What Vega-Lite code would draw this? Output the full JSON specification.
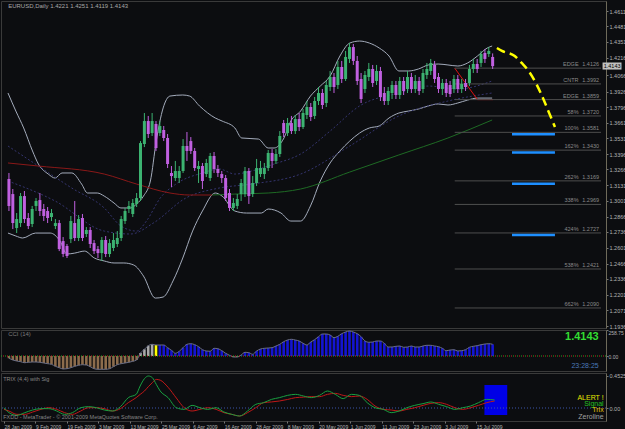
{
"$schema":"https://vega.github.io/schema/vega-lite/v6.json",
"background":"#0c0d10",
"padding":0,
"spacing":2,
"bounds":"flush",
"config":{"view":{"stroke":"#3a3a3a","strokeWidth":1},"axis":{"labelFont":"Liberation Sans","labelFontSize":5.5,"labelColor":"#b4b4b4","tickColor":"#777777","tickSize":2,"labelPadding":1,"domainColor":"#6e6a5a","grid":false,"title":null},"text":{"font":"Liberation Sans"}},
"datasets":{
"candles":[
{"i":0,"o":1.3185,"h":1.3236,"l":1.2913,"c":1.2956},{"i":1,"o":1.3057,"h":1.3100,"l":1.2760,"c":1.2811},{"i":2,"o":1.2769,"h":1.2896,"l":1.2726,"c":1.2845},{"i":3,"o":1.2811,"h":1.3066,"l":1.2777,"c":1.3040},{"i":4,"o":1.3040,"h":1.3083,"l":1.2811,"c":1.2845},{"i":5,"o":1.2854,"h":1.2896,"l":1.2760,"c":1.2786},{"i":6,"o":1.2803,"h":1.2956,"l":1.2777,"c":1.2930},{"i":7,"o":1.2956,"h":1.3023,"l":1.2913,"c":1.2998},{"i":8,"o":1.3006,"h":1.3066,"l":1.2871,"c":1.2913},{"i":9,"o":1.2930,"h":1.2973,"l":1.2828,"c":1.2871},
{"i":10,"o":1.2913,"h":1.2947,"l":1.2811,"c":1.2854},{"i":11,"o":1.2862,"h":1.2930,"l":1.2828,"c":1.2896},{"i":12,"o":1.2786,"h":1.2845,"l":1.2760,"c":1.2811},{"i":13,"o":1.2811,"h":1.2837,"l":1.2573,"c":1.2590},{"i":14,"o":1.2658,"h":1.2692,"l":1.2522,"c":1.2548},{"i":15,"o":1.2616,"h":1.2633,"l":1.2514,"c":1.2531},{"i":16,"o":1.2675,"h":1.2871,"l":1.2641,"c":1.2828},{"i":17,"o":1.2811,"h":1.2998,"l":1.2658,"c":1.2684},{"i":18,"o":1.2684,"h":1.2879,"l":1.2658,"c":1.2845},{"i":19,"o":1.2854,"h":1.2888,"l":1.2658,"c":1.2684},
{"i":20,"o":1.2718,"h":1.2777,"l":1.2692,"c":1.2752},{"i":21,"o":1.2752,"h":1.2777,"l":1.2599,"c":1.2633},{"i":22,"o":1.2641,"h":1.2667,"l":1.2548,"c":1.2573},{"i":23,"o":1.2590,"h":1.2616,"l":1.2514,"c":1.2556},{"i":24,"o":1.2556,"h":1.2692,"l":1.2489,"c":1.2667},{"i":25,"o":1.2667,"h":1.2701,"l":1.2522,"c":1.2548},{"i":26,"o":1.2548,"h":1.2675,"l":1.2522,"c":1.2641},{"i":27,"o":1.2599,"h":1.2726,"l":1.2573,"c":1.2667},{"i":28,"o":1.2633,"h":1.2743,"l":1.2607,"c":1.2684},{"i":29,"o":1.2684,"h":1.2871,"l":1.2658,"c":1.2845},
{"i":30,"o":1.2828,"h":1.2939,"l":1.2803,"c":1.2913},{"i":31,"o":1.2930,"h":1.2998,"l":1.2896,"c":1.2956},{"i":32,"o":1.2888,"h":1.3015,"l":1.2862,"c":1.2981},{"i":33,"o":1.2973,"h":1.3066,"l":1.2947,"c":1.3023},{"i":34,"o":1.3023,"h":1.3507,"l":1.2998,"c":1.3490},{"i":35,"o":1.3482,"h":1.3745,"l":1.3456,"c":1.3677},{"i":36,"o":1.3677,"h":1.3720,"l":1.3533,"c":1.3567},{"i":37,"o":1.3575,"h":1.3745,"l":1.3550,"c":1.3677},{"i":38,"o":1.3652,"h":1.3677,"l":1.3423,"c":1.3448},{"i":39,"o":1.3575,"h":1.3677,"l":1.3550,"c":1.3635},
{"i":40,"o":1.3601,"h":1.3635,"l":1.3507,"c":1.3533},{"i":41,"o":1.3533,"h":1.3567,"l":1.3278,"c":1.3312},{"i":42,"o":1.3236,"h":1.3295,"l":1.3117,"c":1.3210},{"i":43,"o":1.3193,"h":1.3338,"l":1.3168,"c":1.3253},{"i":44,"o":1.3193,"h":1.3295,"l":1.3151,"c":1.3253},{"i":45,"o":1.3253,"h":1.3524,"l":1.3236,"c":1.3465},{"i":46,"o":1.3465,"h":1.3584,"l":1.3338,"c":1.3423},{"i":47,"o":1.3507,"h":1.3541,"l":1.3397,"c":1.3423},{"i":48,"o":1.3423,"h":1.3448,"l":1.3253,"c":1.3278},{"i":49,"o":1.3270,"h":1.3338,"l":1.3151,"c":1.3295},
{"i":50,"o":1.3295,"h":1.3321,"l":1.3100,"c":1.3168},{"i":51,"o":1.3227,"h":1.3355,"l":1.3202,"c":1.3321},{"i":52,"o":1.3193,"h":1.3406,"l":1.3168,"c":1.3380},{"i":53,"o":1.3380,"h":1.3414,"l":1.3236,"c":1.3270},{"i":54,"o":1.3270,"h":1.3304,"l":1.3202,"c":1.3236},{"i":55,"o":1.3227,"h":1.3253,"l":1.3151,"c":1.3193},{"i":56,"o":1.3193,"h":1.3219,"l":1.2998,"c":1.3023},{"i":57,"o":1.3066,"h":1.3100,"l":1.2913,"c":1.2939},{"i":58,"o":1.2939,"h":1.3023,"l":1.2913,"c":1.2981},{"i":59,"o":1.2956,"h":1.3057,"l":1.2930,"c":1.3015},
{"i":60,"o":1.3057,"h":1.3185,"l":1.2998,"c":1.3151},{"i":61,"o":1.3057,"h":1.3287,"l":1.3032,"c":1.3253},{"i":62,"o":1.3253,"h":1.3278,"l":1.2973,"c":1.3040},{"i":63,"o":1.3057,"h":1.3210,"l":1.3032,"c":1.3151},{"i":64,"o":1.3151,"h":1.3355,"l":1.3125,"c":1.3278},{"i":65,"o":1.3227,"h":1.3338,"l":1.3202,"c":1.3278},{"i":66,"o":1.3227,"h":1.3321,"l":1.3185,"c":1.3278},{"i":67,"o":1.3278,"h":1.3431,"l":1.3253,"c":1.3406},{"i":68,"o":1.3406,"h":1.3439,"l":1.3278,"c":1.3338},{"i":69,"o":1.3338,"h":1.3439,"l":1.3312,"c":1.3397},
{"i":70,"o":1.3397,"h":1.3592,"l":1.3372,"c":1.3550},{"i":71,"o":1.3660,"h":1.3686,"l":1.3541,"c":1.3575},{"i":72,"o":1.3575,"h":1.3703,"l":1.3550,"c":1.3660},{"i":73,"o":1.3660,"h":1.3720,"l":1.3567,"c":1.3592},{"i":74,"o":1.3592,"h":1.3728,"l":1.3567,"c":1.3694},{"i":75,"o":1.3694,"h":1.3745,"l":1.3592,"c":1.3626},{"i":76,"o":1.3626,"h":1.3779,"l":1.3609,"c":1.3745},{"i":77,"o":1.3728,"h":1.3847,"l":1.3694,"c":1.3796},{"i":78,"o":1.3796,"h":1.3830,"l":1.3677,"c":1.3711},{"i":79,"o":1.3720,"h":1.3881,"l":1.3694,"c":1.3847},
{"i":80,"o":1.3847,"h":1.3966,"l":1.3813,"c":1.3915},{"i":81,"o":1.3915,"h":1.3949,"l":1.3779,"c":1.3813},{"i":82,"o":1.3830,"h":1.4017,"l":1.3796,"c":1.3983},{"i":83,"o":1.3966,"h":1.4102,"l":1.3932,"c":1.4051},{"i":84,"o":1.4051,"h":1.4085,"l":1.3915,"c":1.3966},{"i":85,"o":1.3983,"h":1.4187,"l":1.3949,"c":1.4136},{"i":86,"o":1.4136,"h":1.4187,"l":1.4000,"c":1.4034},{"i":87,"o":1.4034,"h":1.4272,"l":1.4017,"c":1.4221},{"i":88,"o":1.4204,"h":1.4339,"l":1.4170,"c":1.4305},{"i":89,"o":1.4305,"h":1.4331,"l":1.4153,"c":1.4187},
{"i":90,"o":1.4187,"h":1.4229,"l":1.3983,"c":1.4017},{"i":91,"o":1.4034,"h":1.4085,"l":1.3830,"c":1.3864},{"i":92,"o":1.3949,"h":1.4102,"l":1.3915,"c":1.4068},{"i":93,"o":1.4051,"h":1.4170,"l":1.4017,"c":1.4119},{"i":94,"o":1.4119,"h":1.4153,"l":1.3966,"c":1.4000},{"i":95,"o":1.4017,"h":1.4153,"l":1.3983,"c":1.4102},{"i":96,"o":1.4102,"h":1.4136,"l":1.3847,"c":1.3881},{"i":97,"o":1.3915,"h":1.3966,"l":1.3813,"c":1.3847},{"i":98,"o":1.3847,"h":1.3966,"l":1.3813,"c":1.3932},{"i":99,"o":1.3915,"h":1.4017,"l":1.3864,"c":1.3983},
{"i":100,"o":1.3983,"h":1.4017,"l":1.3864,"c":1.3898},{"i":101,"o":1.3898,"h":1.4051,"l":1.3864,"c":1.4017},{"i":102,"o":1.4017,"h":1.4051,"l":1.3898,"c":1.3932},{"i":103,"o":1.3949,"h":1.4102,"l":1.3915,"c":1.4051},{"i":104,"o":1.4051,"h":1.4085,"l":1.3915,"c":1.3949},{"i":105,"o":1.3949,"h":1.4068,"l":1.3915,"c":1.4017},{"i":106,"o":1.4017,"h":1.4051,"l":1.3898,"c":1.3932},{"i":107,"o":1.3949,"h":1.4119,"l":1.3915,"c":1.4085},{"i":108,"o":1.4068,"h":1.4170,"l":1.4034,"c":1.4119},{"i":109,"o":1.4102,"h":1.4204,"l":1.4068,"c":1.4170},
{"i":110,"o":1.4153,"h":1.4187,"l":1.4000,"c":1.4034},{"i":111,"o":1.4051,"h":1.4085,"l":1.3915,"c":1.3949},{"i":112,"o":1.3949,"h":1.4034,"l":1.3898,"c":1.4000},{"i":113,"o":1.4000,"h":1.4034,"l":1.3881,"c":1.3915},{"i":114,"o":1.3983,"h":1.4017,"l":1.3881,"c":1.3906},{"i":115,"o":1.3949,"h":1.4068,"l":1.3915,"c":1.4034},{"i":116,"o":1.4034,"h":1.4068,"l":1.3915,"c":1.3949},{"i":117,"o":1.3949,"h":1.4034,"l":1.3915,"c":1.3991},{"i":118,"o":1.4000,"h":1.4034,"l":1.3932,"c":1.3966},{"i":119,"o":1.4000,"h":1.4153,"l":1.3974,"c":1.4119},
{"i":120,"o":1.4119,"h":1.4204,"l":1.4085,"c":1.4161},{"i":121,"o":1.4161,"h":1.4204,"l":1.4085,"c":1.4119},{"i":122,"o":1.4170,"h":1.4272,"l":1.4136,"c":1.4246},{"i":123,"o":1.4255,"h":1.4288,"l":1.4170,"c":1.4204},{"i":124,"o":1.4246,"h":1.4305,"l":1.4221,"c":1.4272},{"i":125,"o":1.4221,"h":1.4251,"l":1.4119,"c":1.4143}
],
"upper":[
{"i":-0.25,"v":1.3915},{"i":1.78,"v":1.3762},{"i":3.81,"v":1.3618},{"i":6.09,"v":1.3423},{"i":7.61,"v":1.3312},{"i":10.15,"v":1.3227},{"i":11.93,"v":1.3193},{"i":13.71,"v":1.3236},{"i":16.24,"v":1.3236},{"i":18.78,"v":1.3142},{"i":20.3,"v":1.3066},{"i":22.84,"v":1.3066},{"i":24.62,"v":1.3040},{"i":27.16,"v":1.2981},{"i":28.93,"v":1.2939},{"i":31.47,"v":1.2939},{"i":32.99,"v":1.2973},{"i":34.77,"v":1.3040},{"i":36.55,"v":1.3168},{"i":38.07,"v":1.3507},{"i":39.85,"v":1.3788},{"i":41.62,"v":1.3889},{"i":44.92,"v":1.3898},{"i":46.7,"v":1.3889},{"i":49.24,"v":1.3805},{"i":53.3,"v":1.3703},{"i":55.08,"v":1.3677},{"i":58.38,"v":1.3618},{"i":60.15,"v":1.3533},{"i":64.47,"v":1.3524},{"i":67,"v":1.3448},{"i":68.53,"v":1.3448},{"i":71.07,"v":1.3533},{"i":72.84,"v":1.3677},{"i":75.38,"v":1.3762},{"i":77.92,"v":1.3889},{"i":80.46,"v":1.3974},{"i":83,"v":1.4059},{"i":85.53,"v":1.4229},{"i":88.07,"v":1.4339},{"i":90.61,"v":1.4356},{"i":93.15,"v":1.4339},{"i":95.69,"v":1.4297},{"i":98.22,"v":1.4229},{"i":100.76,"v":1.4102},{"i":103.3,"v":1.4102},{"i":105.84,"v":1.4119},{"i":108.38,"v":1.4153},{"i":110.91,"v":1.4161},{"i":113.45,"v":1.4153},{"i":115.99,"v":1.4144},{"i":118.53,"v":1.4170},{"i":121.07,"v":1.4229},{"i":123.6,"v":1.4297},{"i":124.87,"v":1.4314}
],
"lower":[
{"i":-0.25,"v":1.2726},{"i":1.78,"v":1.2701},{"i":3.55,"v":1.2684},{"i":6.85,"v":1.2726},{"i":10.66,"v":1.2726},{"i":13.2,"v":1.2658},{"i":14.97,"v":1.2548},{"i":17.01,"v":1.2556},{"i":19.54,"v":1.2573},{"i":22.08,"v":1.2514},{"i":24.62,"v":1.2489},{"i":27.16,"v":1.2472},{"i":29.7,"v":1.2472},{"i":32.23,"v":1.2455},{"i":34.77,"v":1.2361},{"i":37.82,"v":1.2174},{"i":39.85,"v":1.2183},{"i":42.39,"v":1.2319},{"i":44.92,"v":1.2514},{"i":47.46,"v":1.2743},{"i":50,"v":1.2913},{"i":53.3,"v":1.3066},{"i":55.08,"v":1.3040},{"i":58.38,"v":1.2913},{"i":61.42,"v":1.2896},{"i":65.23,"v":1.2896},{"i":67,"v":1.2930},{"i":70.3,"v":1.2896},{"i":72.84,"v":1.2828},{"i":75.38,"v":1.2828},{"i":77.92,"v":1.2956},{"i":80.46,"v":1.3168},{"i":83,"v":1.3321},{"i":85.53,"v":1.3423},{"i":88.07,"v":1.3507},{"i":90.61,"v":1.3575},{"i":93.15,"v":1.3618},{"i":95.69,"v":1.3635},{"i":98.22,"v":1.3703},{"i":100.76,"v":1.3745},{"i":103.3,"v":1.3762},{"i":105.84,"v":1.3779},{"i":108.38,"v":1.3805},{"i":110.91,"v":1.3822},{"i":113.45,"v":1.3813},{"i":115.99,"v":1.3830},{"i":118.53,"v":1.3855},{"i":121.07,"v":1.3872},{"i":124.87,"v":1.3872}
],
"dim1":[
{"i":-0.25,"v":1.3465},{"i":7.61,"v":1.3295},{"i":16.24,"v":1.3108},{"i":24.62,"v":1.2939},{"i":28.93,"v":1.2786},{"i":32.99,"v":1.2743},{"i":35.53,"v":1.2828},{"i":39.09,"v":1.3023},{"i":43.15,"v":1.3142},{"i":50,"v":1.3236},{"i":54.31,"v":1.3270},{"i":58.38,"v":1.3227},{"i":62.69,"v":1.3253},{"i":68.53,"v":1.3312},{"i":75.38,"v":1.3397},{"i":83,"v":1.3592},{"i":90.61,"v":1.3805},{"i":100.76,"v":1.3915},{"i":108.38,"v":1.3974},{"i":115.99,"v":1.3949},{"i":124.87,"v":1.4017}
],
"dim2":[
{"i":-0.25,"v":1.3168},{"i":11.93,"v":1.2998},{"i":24.62,"v":1.2743},{"i":31.47,"v":1.2718},{"i":37.31,"v":1.2811},{"i":45.69,"v":1.3023},{"i":54.31,"v":1.3108},{"i":62.69,"v":1.3142},{"i":75.38,"v":1.3227},{"i":88.07,"v":1.3465},{"i":100.76,"v":1.3720},{"i":113.45,"v":1.3847},{"i":124.87,"v":1.3915}
],
"maRed":[
{"i":-0.25,"v":1.3321},{"i":7.61,"v":1.3295},{"i":24.62,"v":1.3227},{"i":32.99,"v":1.3142},{"i":41.62,"v":1.3066},{"i":46.7,"v":1.3049},{"i":52.54,"v":1.3049}
],
"maGreen":[
{"i":52.54,"v":1.3049},{"i":58.38,"v":1.3057},{"i":67,"v":1.3066},{"i":75.38,"v":1.3100},{"i":88.07,"v":1.3244},{"i":100.76,"v":1.3389},{"i":113.45,"v":1.3533},{"i":124.87,"v":1.3686}
],
"fib":[
{"name":"EDGE","v":1.4126},{"name":"CNTR","v":1.3992},{"name":"EDGE","v":1.3859},{"name":"58%","v":1.3720},{"name":"100%","v":1.3581},{"name":"162%","v":1.3430},{"name":"262%","v":1.3169},{"name":"338%","v":1.2969},{"name":"424%","v":1.2727},{"name":"538%","v":1.2421},{"name":"662%","v":1.2090}
],
"blue":[{"v":1.3565},{"v":1.3410},{"v":1.3145},{"v":1.2710}],
"arc":[
{"i":126.1,"v":1.4297},{"i":127.4,"v":1.4272},{"i":130.7,"v":1.4229},{"i":132.5,"v":1.4170},{"i":134.3,"v":1.4102},{"i":136.3,"v":1.3991},{"i":138.1,"v":1.3864},{"i":139.6,"v":1.3745},{"i":141.1,"v":1.3626}
],
"trend":[{"i":115.2,"v":1.4126},{"i":121.07,"v":1.3859},{"i":125.1,"v":1.3859}],
"cci":[
{"i":0,"v":-23},{"i":1,"v":-40},{"i":2,"v":-50},{"i":3,"v":-57},{"i":4,"v":-67},{"i":5,"v":-63},{"i":6,"v":-60},{"i":7,"v":-60},{"i":8,"v":-63},{"i":9,"v":-70},
{"i":10,"v":-77},{"i":11,"v":-83},{"i":12,"v":-103},{"i":13,"v":-117},{"i":14,"v":-130},{"i":15,"v":-127},{"i":16,"v":-117},{"i":17,"v":-103},{"i":18,"v":-93},{"i":19,"v":-87},
{"i":20,"v":-90},{"i":21,"v":-107},{"i":22,"v":-127},{"i":23,"v":-133},{"i":24,"v":-133},{"i":25,"v":-133},{"i":26,"v":-127},{"i":27,"v":-107},{"i":28,"v":-87},{"i":29,"v":-77},
{"i":30,"v":-70},{"i":31,"v":-63},{"i":32,"v":-53},{"i":33,"v":-40},{"i":34,"v":30},{"i":35,"v":67},{"i":36,"v":103},{"i":37,"v":117},{"i":38,"v":110},{"i":39,"v":110},
{"i":40,"v":110},{"i":41,"v":83},{"i":42,"v":57},{"i":43,"v":27},{"i":44,"v":47},{"i":45,"v":83},{"i":46,"v":117},{"i":47,"v":123},{"i":48,"v":113},{"i":49,"v":93},
{"i":50,"v":63},{"i":51,"v":50},{"i":52,"v":47},{"i":53,"v":77},{"i":54,"v":73},{"i":55,"v":53},{"i":56,"v":27},{"i":57,"v":7},{"i":58,"v":-10},{"i":59,"v":-10},
{"i":60,"v":10},{"i":61,"v":37},{"i":62,"v":33},{"i":63,"v":17},{"i":64,"v":50},{"i":65,"v":70},{"i":66,"v":77},{"i":67,"v":80},{"i":68,"v":83},{"i":69,"v":100},
{"i":70,"v":117},{"i":71,"v":143},{"i":72,"v":160},{"i":73,"v":167},{"i":74,"v":160},{"i":75,"v":150},{"i":76,"v":127},{"i":77,"v":110},{"i":78,"v":140},{"i":79,"v":163},
{"i":80,"v":193},{"i":81,"v":220},{"i":82,"v":220},{"i":83,"v":210},{"i":84,"v":183},{"i":85,"v":197},{"i":86,"v":223},{"i":87,"v":240},{"i":88,"v":250},{"i":89,"v":240},
{"i":90,"v":223},{"i":91,"v":193},{"i":92,"v":150},{"i":93,"v":137},{"i":94,"v":140},{"i":95,"v":150},{"i":96,"v":150},{"i":97,"v":127},{"i":98,"v":90},{"i":99,"v":90},
{"i":100,"v":97},{"i":101,"v":100},{"i":102,"v":87},{"i":103,"v":90},{"i":104,"v":100},{"i":105,"v":90},{"i":106,"v":90},{"i":107,"v":100},{"i":108,"v":107},{"i":109,"v":107},
{"i":110,"v":100},{"i":111,"v":93},{"i":112,"v":77},{"i":113,"v":53},{"i":114,"v":60},{"i":115,"v":63},{"i":116,"v":50},{"i":117,"v":53},{"i":118,"v":63},{"i":119,"v":87},
{"i":120,"v":97},{"i":121,"v":103},{"i":122,"v":113},{"i":123,"v":120},{"i":124,"v":123},{"i":125,"v":117}
],
"trix":[
{"i":0,"g":0.004,"r":-0.019},{"i":1.26,"g":-0.065,"r":-0.042},{"i":3.3,"g":-0.103,"r":-0.089},{"i":5.3,"g":-0.065,"r":-0.089},{"i":7.3,"g":-0.028,"r":-0.056},{"i":9.4,"g":-0.009,"r":-0.019},{"i":11.4,"g":-0.009,"r":0.004},{"i":13.4,"g":-0.042,"r":-0.019},{"i":15.4,"g":-0.089,"r":-0.065},{"i":17.4,"g":-0.065,"r":-0.089},
{"i":19.5,"g":0.004,"r":-0.042},{"i":21.5,"g":0.019,"r":0.004},{"i":23.5,"g":0.004,"r":0.004},{"i":25.5,"g":-0.028,"r":-0.009},{"i":27.6,"g":-0.042,"r":-0.042},{"i":29.6,"g":0.019,"r":-0.009},{"i":31.6,"g":0.145,"r":0.075},{"i":33.6,"g":0.191,"r":0.145},{"i":34.6,"g":0.308,"r":0.19},{"i":35.7,"g":0.411,"r":0.238},
{"i":36.7,"g":0.448,"r":0.30},{"i":37.7,"g":0.425,"r":0.355},{"i":38.7,"g":0.331,"r":0.40},{"i":39.7,"g":0.238,"r":0.39},{"i":41.7,"g":0.145,"r":0.29},{"i":43.8,"g":0.004,"r":0.14},{"i":45.8,"g":-0.019,"r":0.004},{"i":47.8,"g":0.037,"r":-0.042},{"i":49.8,"g":0.004,"r":-0.019},{"i":51.8,"g":-0.019,"r":0.004},
{"i":53.9,"g":0.004,"r":-0.019},{"i":55.9,"g":-0.056,"r":-0.065},{"i":57.9,"g":-0.089,"r":-0.089},{"i":59.9,"g":-0.112,"r":-0.112},{"i":61.9,"g":-0.042,"r":-0.065},{"i":64,"g":0.051,"r":0.004},{"i":66,"g":0.075,"r":0.075},{"i":68,"g":0.121,"r":0.085},{"i":70,"g":0.145,"r":0.098},{"i":72.1,"g":0.177,"r":0.12},
{"i":74.1,"g":0.191,"r":0.145},{"i":76.1,"g":0.168,"r":0.152},{"i":78.1,"g":0.145,"r":0.159},{"i":80.2,"g":0.177,"r":0.159},{"i":82.2,"g":0.238,"r":0.191},{"i":84.2,"g":0.191,"r":0.205},{"i":86.2,"g":0.131,"r":0.177},{"i":88.3,"g":0.191,"r":0.159},{"i":90.3,"g":0.177,"r":0.168},{"i":92.3,"g":0.075,"r":0.121},
{"i":94.3,"g":0.004,"r":0.028},{"i":96.4,"g":-0.019,"r":-0.019},{"i":98.4,"g":-0.065,"r":-0.028},{"i":100.4,"g":-0.042,"r":-0.042},{"i":102.4,"g":0.004,"r":-0.019},{"i":104.4,"g":0.037,"r":0.004},{"i":106.5,"g":0.061,"r":0.037},{"i":108.5,"g":0.084,"r":0.065},{"i":110.5,"g":0.051,"r":0.075},{"i":112.5,"g":0.019,"r":0.051},
{"i":114.6,"g":-0.019,"r":0.004},{"i":116.6,"g":0.004,"r":-0.019},{"i":118.6,"g":0.028,"r":0.004},{"i":120.6,"g":0.075,"r":0.037},{"i":122.7,"g":0.121,"r":0.075},{"i":124.7,"g":0.112,"r":0.098}
]
},
"vconcat":[
{
"width":605,"height":327,
"encoding":{
 "y":{"field":"v","type":"quantitative","scale":{"domain":[1.192,1.4696],"nice":false,"zero":false},
  "axis":{"orient":"right","title":null,"values":[1.4611,1.4481,1.4351,1.4216,1.4066,1.3926,1.3796,1.3661,1.3531,1.3396,1.3266,1.3131,1.3001,1.2866,1.2736,1.2601,1.2466,1.2336,1.2201,1.2071,1.1936],"format":".4f"}}
},
"layer":[
{"data":{"name":"upper"},"mark":{"type":"line","color":"#a4acbc","strokeWidth":1,"interpolate":"monotone"},
 "encoding":{"x":{"field":"i","type":"quantitative","scale":{"domain":[-0.76,153.0],"nice":false,"zero":false},"axis":null}}},
{"data":{"name":"lower"},"mark":{"type":"line","color":"#a4acbc","strokeWidth":1,"interpolate":"monotone"},
 "encoding":{"x":{"field":"i","type":"quantitative","axis":null}}},
{"data":{"name":"dim1"},"mark":{"type":"line","color":"#34346e","strokeWidth":1,"strokeDash":[2,2],"interpolate":"monotone"},
 "encoding":{"x":{"field":"i","type":"quantitative","axis":null}}},
{"data":{"name":"dim2"},"mark":{"type":"line","color":"#34346e","strokeWidth":1,"strokeDash":[2,2],"interpolate":"monotone"},
 "encoding":{"x":{"field":"i","type":"quantitative","axis":null}}},
{"data":{"name":"maRed"},"mark":{"type":"line","color":"#8a1818","strokeWidth":1,"interpolate":"monotone"},
 "encoding":{"x":{"field":"i","type":"quantitative","axis":null}}},
{"data":{"name":"maGreen"},"mark":{"type":"line","color":"#1e6a24","strokeWidth":1,"interpolate":"monotone"},
 "encoding":{"x":{"field":"i","type":"quantitative","axis":null}}},
{"data":{"name":"trend"},"mark":{"type":"line","color":"#e01010","strokeWidth":1},
 "encoding":{"x":{"field":"i","type":"quantitative","axis":null}}},
{"data":{"name":"fib"},"mark":{"type":"rule","color":"#4e4e4e","strokeWidth":1},
 "encoding":{"x":{"datum":115.2,"type":"quantitative","axis":null},"x2":{"datum":153.0}}},
{"data":{"name":"fib"},"mark":{"type":"text","color":"#8a8a8a","fontSize":5.5,"align":"right","baseline":"bottom","dy":-1},
 "encoding":{"x":{"datum":147.2,"type":"quantitative","axis":null},"text":{"field":"name"}}},
{"data":{"name":"fib"},"mark":{"type":"text","color":"#8a8a8a","fontSize":5.5,"align":"right","baseline":"bottom","dy":-1},
 "encoding":{"x":{"datum":152.5,"type":"quantitative","axis":null},"text":{"field":"v","format":".4f"}}},
{"data":{"name":"blue"},"mark":{"type":"rule","color":"#1e8fff","strokeWidth":2.5},
 "encoding":{"x":{"datum":130.0,"type":"quantitative","axis":null},"x2":{"datum":141.1}}},
{"data":{"name":"candles"},"transform":[{"fold":["l"],"as":["k","v"]}],"mark":{"type":"rule","strokeWidth":1},
 "encoding":{"x":{"field":"i","type":"quantitative","axis":null},"y2":{"field":"h"},
 "color":{"condition":{"test":"datum.c >= datum.o","value":"#3cb371"},"value":"#c060e0"}}},
{"data":{"name":"candles"},"transform":[{"fold":["o"],"as":["k","v"]}],"mark":{"type":"bar","width":3},
 "encoding":{"x":{"field":"i","type":"quantitative","axis":null},"y2":{"field":"c"},
 "color":{"condition":{"test":"datum.c >= datum.o","value":"#3cb371"},"value":"#c060e0"}}},
{"data":{"name":"arc"},"mark":{"type":"line","color":"#ffff00","strokeWidth":2.5,"strokeDash":[9,5],"interpolate":"monotone"},
 "encoding":{"x":{"field":"i","type":"quantitative","axis":null}}},
{"data":{"values":[{"t":"EURUSD,Daily  1.4221 1.4251 1.4119 1.4143","v":1.4655}]},"mark":{"type":"text","color":"#a8a8a8","fontSize":6,"align":"left","baseline":"middle"},
 "encoding":{"x":{"datum":-0.2,"type":"quantitative","axis":null},"text":{"field":"t"}}},
{"data":{"values":[{"v":1.4174,"v2":1.4114}]},"mark":{"type":"rect","color":"#c0c0c0","clip":false},
 "encoding":{"x":{"datum":153.4,"type":"quantitative","axis":null},"x2":{"datum":158.3},"y2":{"field":"v2"}}},
{"data":{"values":[{"v":1.4143}]},"mark":{"type":"text","color":"#000000","fontSize":5.5,"align":"left","baseline":"middle"},
 "encoding":{"x":{"datum":153.7,"type":"quantitative","axis":null},"text":{"field":"v","format":".4f"}}}
]
},
{
"width":605,"height":41,
"encoding":{
 "y":{"field":"v","type":"quantitative","scale":{"domain":[-150,260],"nice":false,"zero":false},
  "axis":{"orient":"right","title":null,"values":[258.75,0],"labelFontSize":5,"labelPadding":0,
   "labelBaseline":{"condition":{"test":"datum.value == 0","value":"middle"},"value":"top"},
   "labelExpr":"datum.value == 0 ? '0.00' : format(datum.value, '.2f')"}}
},
"layer":[
{"data":{"name":"cci"},"mark":{"type":"bar","width":2.6},
 "encoding":{"x":{"field":"i","type":"quantitative","scale":{"domain":[-0.76,153.0],"nice":false,"zero":false},"axis":null},"y2":{"datum":0},
 "color":{"condition":[{"test":"datum.v < 0","value":"#8c6c4c"},{"test":"datum.i >= 34 && datum.i <= 37","value":"#a8a8a8"},{"test":"datum.i == 38","value":"#ffff00"}],"value":"#1414d2"}}},
{"data":{"name":"cci"},"mark":{"type":"line","color":"#6a6e86","strokeWidth":1,"interpolate":"monotone"},
 "encoding":{"x":{"field":"i","type":"quantitative","axis":null}}},
{"data":{"values":[{"v":0}]},"mark":{"type":"rule","color":"#22aa22","strokeDash":[1,3],"strokeWidth":1}},
{"data":{"values":[{"v":0}]},"mark":{"type":"rule","color":"#cc2222","strokeDash":[1,3],"strokeDashOffset":2,"strokeWidth":1}},
{"data":{"values":[{"t":"CCI (14)","v":220}]},"mark":{"type":"text","color":"#7c7c7c","fontSize":6,"align":"left","baseline":"middle"},
 "encoding":{"x":{"datum":-0.2,"type":"quantitative","axis":null},"text":{"field":"t"}}},
{"data":{"values":[{"t":"1.4143","v":195}]},"mark":{"type":"text","color":"#33dd33","fontSize":11,"fontWeight":"bold","align":"right","baseline":"middle"},
 "encoding":{"x":{"datum":152.4,"type":"quantitative","axis":null},"text":{"field":"t"}}},
{"data":{"values":[{"t":"23:28:25","v":-100}]},"mark":{"type":"text","color":"#4a78b8","fontSize":7,"align":"right","baseline":"middle"},
 "encoding":{"x":{"datum":152.4,"type":"quantitative","axis":null},"text":{"field":"t"}}}
]
},
{
"width":605,"height":48,
"encoding":{
 "y":{"field":"v","type":"quantitative","scale":{"domain":[-0.182,0.49],"nice":false,"zero":false},
  "axis":{"orient":"right","title":null,"values":[0.4525,0],"labelExpr":"datum.value == 0 ? '0.00' : format(datum.value, '.4f')"}}
},
"layer":[
{"data":{"values":[{"i":122.1,"i2":127.9,"v":0.322,"v2":-0.098}]},"mark":{"type":"rect","color":"#0000e6"},
 "encoding":{"x":{"field":"i","type":"quantitative","scale":{"domain":[-0.76,153.0],"nice":false,"zero":false},
  "axis":{"orient":"bottom","title":null,"values":[0,8,16,24,32,40,48,56,64,72,80,88,96,104,112,120],"labelAlign":"left","labelFontSize":5,"labelOverlap":false,"labelBound":false,"labelFlush":false,"domain":false,"labelExpr":"['28 Jan 2009','9 Feb 2009','19 Feb 2009','3 Mar 2009','13 Mar 2009','25 Mar 2009','6 Apr 2009','16 Apr 2009','28 Apr 2009','8 May 2009','20 May 2009','1 Jun 2009','11 Jun 2009','23 Jun 2009','3 Jul 2009','15 Jul 2009'][round(datum.value/8)]"}},
 "x2":{"field":"i2"},"y2":{"field":"v2"}}},
{"data":{"values":[{"v":0}]},"mark":{"type":"rule","color":"#3a54a8","strokeDash":[1,2],"strokeWidth":1}},
{"data":{"name":"trix"},"transform":[{"fold":["r"],"as":["k","v"]}],"mark":{"type":"line","color":"#c01818","strokeWidth":1,"interpolate":"monotone"},
 "encoding":{"x":{"field":"i","type":"quantitative",
  "axis":{"orient":"bottom","title":null,"values":[0,8,16,24,32,40,48,56,64,72,80,88,96,104,112,120],"labelAlign":"left","labelFontSize":5,"labelOverlap":false,"labelBound":false,"labelFlush":false,"domain":false,"labelExpr":"['28 Jan 2009','9 Feb 2009','19 Feb 2009','3 Mar 2009','13 Mar 2009','25 Mar 2009','6 Apr 2009','16 Apr 2009','28 Apr 2009','8 May 2009','20 May 2009','1 Jun 2009','11 Jun 2009','23 Jun 2009','3 Jul 2009','15 Jul 2009'][round(datum.value/8)]"}}}},
{"data":{"name":"trix"},"transform":[{"fold":["g"],"as":["k","v"]}],"mark":{"type":"line","color":"#18a040","strokeWidth":1,"interpolate":"monotone"},
 "encoding":{"x":{"field":"i","type":"quantitative",
  "axis":{"orient":"bottom","title":null,"values":[0,8,16,24,32,40,48,56,64,72,80,88,96,104,112,120],"labelAlign":"left","labelFontSize":5,"labelOverlap":false,"labelBound":false,"labelFlush":false,"domain":false,"labelExpr":"['28 Jan 2009','9 Feb 2009','19 Feb 2009','3 Mar 2009','13 Mar 2009','25 Mar 2009','6 Apr 2009','16 Apr 2009','28 Apr 2009','8 May 2009','20 May 2009','1 Jun 2009','11 Jun 2009','23 Jun 2009','3 Jul 2009','15 Jul 2009'][round(datum.value/8)]"}}}},
{"data":{"values":[{"t":"TRIX (4,4) with Sig","v":0.406},{"t":"FXDD - MetaTrader - © 2001-2009 MetaQuotes Software Corp.","v":-0.13}]},"mark":{"type":"text","color":"#868686","fontSize":5.5,"align":"left","baseline":"middle"},
 "encoding":{"x":{"datum":-0.2,"type":"quantitative",
  "axis":{"orient":"bottom","title":null,"values":[0,8,16,24,32,40,48,56,64,72,80,88,96,104,112,120],"labelAlign":"left","labelFontSize":5,"labelOverlap":false,"labelBound":false,"labelFlush":false,"domain":false,"labelExpr":"['28 Jan 2009','9 Feb 2009','19 Feb 2009','3 Mar 2009','13 Mar 2009','25 Mar 2009','6 Apr 2009','16 Apr 2009','28 Apr 2009','8 May 2009','20 May 2009','1 Jun 2009','11 Jun 2009','23 Jun 2009','3 Jul 2009','15 Jul 2009'][round(datum.value/8)]"}},"text":{"field":"t"}}},
{"data":{"values":[{"t":"ALERT !","v":0.14,"k":"a"},{"t":"Signal","v":0.056,"k":"s"},{"t":"Trix","v":-0.028,"k":"t"},{"t":"Zeroline","v":-0.126,"k":"z"}]},
 "mark":{"type":"text","fontSize":7,"align":"right","baseline":"middle"},
 "encoding":{"x":{"datum":152.4,"type":"quantitative",
  "axis":{"orient":"bottom","title":null,"values":[0,8,16,24,32,40,48,56,64,72,80,88,96,104,112,120],"labelAlign":"left","labelFontSize":5,"labelOverlap":false,"labelBound":false,"labelFlush":false,"domain":false,"labelExpr":"['28 Jan 2009','9 Feb 2009','19 Feb 2009','3 Mar 2009','13 Mar 2009','25 Mar 2009','6 Apr 2009','16 Apr 2009','28 Apr 2009','8 May 2009','20 May 2009','1 Jun 2009','11 Jun 2009','23 Jun 2009','3 Jul 2009','15 Jul 2009'][round(datum.value/8)]"}},"text":{"field":"t"},
 "color":{"field":"k","type":"nominal","scale":{"domain":["a","s","t","z"],"range":["#e6e600","#22c022","#e6c800","#a0a0a0"]},"legend":null}}}
]
}
]
}
